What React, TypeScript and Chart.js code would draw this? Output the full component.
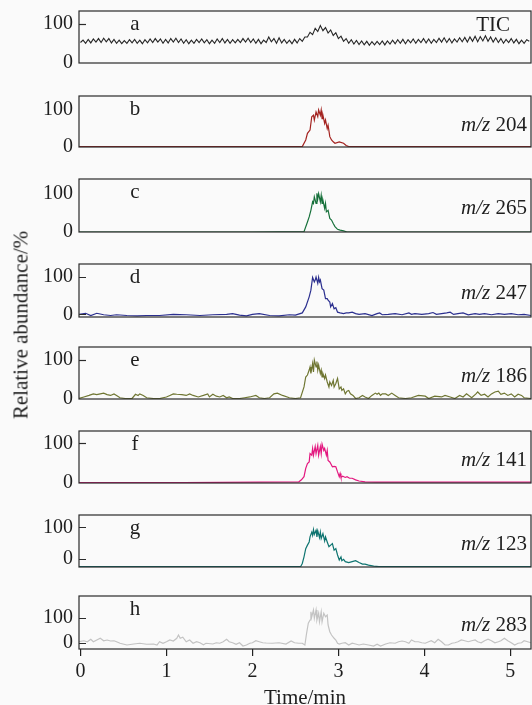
import React, { useEffect, useRef } from "react";
import { Chart, registerables } from "chart.js";

Chart.register(...registerables);

// ---------------- data ----------------
const X_TICKS = [0, 1, 2, 3, 4, 5];
const Y_TICKS = [0, 100];
const X_TITLE = "Time/min";
const Y_TITLE = "Relative abundance/%";
const PANEL_LETTERS = ["a", "b", "c", "d", "e", "f", "g", "h"];
const PANEL_IONS = ["TIC", "204", "265", "247", "186", "141", "123", "283"];

// TIC sampled every 0.03 min starting at 0
const TIC_STEP = 0.03;
const TIC_VALUES = [
  52, 58, 50, 60, 51, 61, 53, 62, 52, 63, 54, 62, 51, 60, 50, 58, 49, 57, 50, 59,
  51, 60, 50, 58, 49, 59, 51, 61, 52, 62, 53, 61, 50, 60, 51, 62, 53, 63, 52, 61,
  50, 59, 49, 58, 50, 60, 52, 61, 51, 59, 49, 58, 50, 61, 52, 62, 51, 60, 50, 59,
  51, 60, 52, 62, 53, 63, 52, 61, 50, 60, 49, 58, 52, 66, 54, 62, 50, 64, 51, 60,
  50, 58, 49, 60, 51, 62, 55, 66,
  66, 78, 72, 88, 80, 95, 82, 90, 76, 84, 70, 77, 62, 68, 55, 62, 50, 59, 48, 57,
  47, 56, 46, 55, 45, 54, 46, 55, 47, 56, 46, 56, 48, 58, 49, 59, 50, 60, 49, 59,
  51, 61, 50, 60, 52, 62, 51, 61, 50, 60, 52, 63, 53, 64, 52, 62, 51, 61, 53, 64,
  54, 65, 53, 66, 55, 68, 54, 67, 56, 69, 55, 66, 53, 64, 52, 62, 50, 60, 52, 62,
  51, 60, 49, 58, 50, 59, 55,
];

const MZ204_TIME = [-0.02, 1.1, 2.0, 2.58, 2.62, 2.64, 2.67, 2.69, 2.71, 2.72, 2.74, 2.76, 2.77, 2.79, 2.8, 2.81, 2.82, 2.84, 2.85, 2.87, 2.88, 2.9, 2.92, 2.94, 2.96, 3.01, 3.06, 3.09, 3.12, 3.5, 5.24];
const MZ204_VALUES = [1, 1, 1, 1, 19, 37, 46, 82, 86, 73, 95, 82, 100, 86, 100, 77, 86, 64, 73, 50, 59, 28, 19, 14, 10, 14, 10, 4, 1, 1, 1];

const MZ265_TIME = [-0.02, 2.0, 2.6, 2.64, 2.66, 2.68, 2.7, 2.71, 2.72, 2.74, 2.75, 2.76, 2.77, 2.79, 2.8, 2.81, 2.82, 2.84, 2.85, 2.86, 2.88, 2.9, 2.92, 2.94, 2.96, 2.99, 3.02, 3.06, 3.1, 5.24];
const MZ265_VALUES = [0, 0, 1, 26, 39, 56, 78, 74, 91, 74, 100, 86, 99, 78, 95, 74, 82, 61, 74, 52, 56, 35, 31, 22, 14, 7, 5, 3, 0, 0];

const MZ247_TIME = [
  -0.02, 0.06, 0.12, 0.19, 0.27, 0.35, 0.42, 0.54, 0.66, 0.77, 0.92, 1.08, 1.23, 1.39, 1.54, 1.7, 1.77, 1.85, 1.93, 2.0,
  2.08, 2.2, 2.31, 2.43, 2.5, 2.58, 2.62, 2.66, 2.68, 2.7, 2.72, 2.73, 2.74, 2.76, 2.77, 2.78, 2.79, 2.81, 2.83, 2.85,
  2.87, 2.88, 2.9, 2.91, 2.93, 2.95, 2.97, 2.99, 3.02, 3.06, 3.09, 3.12, 3.16, 3.2, 3.24, 3.31, 3.39, 3.45, 3.48, 3.51,
  3.58, 3.66, 3.74, 3.82, 3.85, 3.89, 3.97, 4.05, 4.1, 4.14, 4.2, 4.26, 4.3, 4.34, 4.39, 4.45, 4.51, 4.59, 4.64, 4.7,
  4.78, 4.86, 4.93, 5.01, 5.09, 5.16, 5.24,
];
const MZ247_VALUES = [
  0, 3, -3, 3, -1, -3, -1, -3, -4, -3, -3, 0, -1, -3, -1, 0, 2, -2, -4, 0,
  2, -3, -4, -1, -2, 4, 20, 47, 65, 99, 87, 92, 100, 83, 99, 87, 92, 69, 65, 42,
  42, 38, 33, 20, 29, 15, 18, 6, 4, 2, 4, 4, 6, 2, 0, 2, -3, 2, 4, -1,
  0, 2, -1, 4, 0, 2, 0, 2, 5, 0, 2, 4, 6, 0, 2, 4, -1, 2, 0, 2,
  -1, 2, 0, 2, -1, 0, -3,
];

const MZ186_TIME = [
  -0.02, 0.04, 0.1, 0.15, 0.19, 0.23, 0.27, 0.31, 0.35, 0.39, 0.42, 0.46, 0.52, 0.6, 0.64, 0.67, 0.69, 0.73, 0.77, 0.85,
  0.92, 1.0, 1.04, 1.08, 1.12, 1.18, 1.23, 1.27, 1.31, 1.37, 1.43, 1.48, 1.5, 1.54, 1.58, 1.62, 1.66, 1.7, 1.73, 1.77,
  1.85, 1.91, 1.97, 2.04, 2.08, 2.14, 2.2, 2.25, 2.29, 2.35, 2.43, 2.5, 2.56, 2.6, 2.62, 2.64, 2.66, 2.67, 2.68, 2.7,
  2.71, 2.72, 2.74, 2.75, 2.76, 2.77, 2.79, 2.8, 2.81, 2.82, 2.84, 2.85, 2.87, 2.89, 2.9, 2.92, 2.94, 2.95, 2.97, 2.99,
  3.01, 3.03, 3.04, 3.06, 3.08, 3.1, 3.12, 3.14, 3.17, 3.2, 3.24, 3.28, 3.31, 3.35, 3.39, 3.43, 3.45, 3.47, 3.49, 3.51,
  3.55, 3.58, 3.62, 3.66, 3.7, 3.78, 3.85, 3.93, 4.01, 4.05, 4.12, 4.2, 4.24, 4.3, 4.355, 4.41, 4.45, 4.49, 4.55, 4.6,
  4.62, 4.66, 4.7, 4.74, 4.78, 4.82, 4.86, 4.89, 4.93, 4.97, 5.01, 5.05, 5.09, 5.13, 5.16, 5.24,
];
const MZ186_VALUES = [
  0, 4, 8, 12, 10, 12, 14, 10, 8, 12, 8, 2, 0, 0, 11, 8, 12, 8, 2, 0,
  0, 4, 8, 12, 11, 10, 8, 12, 8, 4, 8, 12, 4, 11, 6, 4, 8, 2, 4, 0,
  0, 2, 4, 8, 2, 0, 2, 12, 14, 8, 2, 0, 2, 30, 56, 61, 74, 82, 65, 91,
  69, 100, 82, 96, 74, 87, 65, 74, 56, 65, 52, 61, 43, 30, 43, 34, 47, 30, 39, 52,
  25, 30, 21, 25, 12, 19, 21, 12, 8, 0, 2, 8, 4, 0, 8, 14, 11, 14, 8, 12,
  12, 8, 14, 8, 2, 0, 2, 8, 6, 0, 6, 4, 8, 4, 0, 8, 4, 12, 2, 12,
  17, 8, 11, 4, 12, 17, 19, 11, 14, 8, 12, 4, 11, 8, 2, 0,
];

const MZ141_TIME = [-0.02, 1.2, 2.54, 2.57, 2.6, 2.62, 2.64, 2.66, 2.67, 2.69, 2.7, 2.71, 2.73, 2.74, 2.76, 2.77, 2.79, 2.8, 2.81, 2.83, 2.84, 2.86, 2.87, 2.88, 2.9, 2.91, 2.93, 2.95, 2.97, 2.99, 3.01, 3.02, 3.03, 3.05, 3.08, 3.1, 3.13, 3.16, 3.2, 3.24, 3.31, 3.43, 3.62, 5.24];
const MZ141_VALUES = [1, 1, 3, 8, 16, 37, 49, 53, 74, 70, 87, 70, 92, 74, 95, 70, 92, 74, 98, 82, 87, 70, 82, 57, 53, 49, 41, 42, 41, 28, 16, 24, 14, 17, 14, 16, 12, 12, 8, 5, 3, 2, 2, 2];

const MZ123_TIME = [-0.02, 2.0, 2.56, 2.58, 2.6, 2.62, 2.64, 2.66, 2.67, 2.69, 2.7, 2.71, 2.72, 2.74, 2.75, 2.76, 2.78, 2.79, 2.8, 2.82, 2.84, 2.85, 2.87, 2.89, 2.91, 2.93, 2.95, 2.97, 2.99, 3.01, 3.03, 3.04, 3.06, 3.08, 3.12, 3.16, 3.2, 3.24, 3.28, 3.31, 3.35, 3.41, 3.47, 5.24];
const MZ123_VALUES = [-24, -24, -24, -14, 7, 33, 44, 54, 70, 85, 75, 93, 78, 91, 70, 89, 68, 85, 65, 80, 57, 70, 54, 39, 44, 49, 28, 33, 13, -3, 7, -5, -1, -8, -11, -8, -5, -11, -16, -16, -19, -22, -24, -24];

const MZ283_TIME = [
  -0.02, 0.04, 0.08, 0.12, 0.15, 0.19, 0.23, 0.27, 0.31, 0.35, 0.39, 0.42, 0.46, 0.54, 0.62, 0.69, 0.77, 0.85, 0.89, 0.92,
  0.96, 1.0, 1.04, 1.08, 1.12, 1.14, 1.16, 1.19, 1.23, 1.27, 1.31, 1.35, 1.39, 1.43, 1.46, 1.54, 1.58, 1.62, 1.66, 1.7,
  1.73, 1.77, 1.81, 1.85, 1.89, 1.93, 1.97, 2.0, 2.04, 2.08, 2.12, 2.16, 2.23, 2.31, 2.39, 2.45, 2.49, 2.54, 2.58, 2.61,
  2.63, 2.65, 2.67, 2.68, 2.69, 2.71, 2.72, 2.74, 2.75, 2.77, 2.78, 2.8, 2.81, 2.83, 2.85, 2.87, 2.88, 2.9, 2.92, 2.95,
  2.97, 2.99, 3.01, 3.04, 3.08, 3.12, 3.16, 3.2, 3.24, 3.29, 3.35, 3.41, 3.45, 3.49, 3.55, 3.6, 3.66, 3.7, 3.74, 3.78,
  3.82, 3.85, 3.89, 3.93, 3.97, 4.01, 4.05, 4.08, 4.12, 4.16, 4.2, 4.24, 4.28, 4.32, 4.355, 4.39, 4.43, 4.47, 4.51, 4.55,
  4.59, 4.62, 4.66, 4.7, 4.74, 4.78, 4.82, 4.86, 4.89, 4.93, 4.97, 5.01, 5.05, 5.09, 5.13, 5.16, 5.24,
];
const MZ283_VALUES = [
  5, 9, 5, 15, 5, 12, 19, 9, 12, 8, 9, 5, -1, -8, -4, -1, -5, -4, -8, 5,
  -1, 5, 12, 8, 19, 32, 19, 23, 5, 12, -1, 5, 1, -7, -1, -4, 1, -1, 5, 15,
  5, 1, -5, 1, -12, -8, -1, 1, 9, 5, 1, 0, -1, 1, -4, 8, 1, -1, -1, -8,
  39, 79, 92, 125, 105, 132, 99, 132, 92, 119, 85, 125, 85, 119, 105, 112, 72, 45, 32, 19,
  12, -1, -4, -1, 1, -8, -1, -4, -8, -4, -8, -12, -5, -12, -4, 1, -1, 5, 8, 5,
  -1, 12, 5, 5, 1, -1, 5, 9, 1, 15, 5, -8, -8, -1, 1, 5, 12, 9, 5, 9,
  12, 5, 1, 9, 15, 9, 1, 5, 9, 19, 9, 1, -8, -1, 1, 9, 1,
];

const TIC_TIME = TIC_VALUES.map((_, i) => i * TIC_STEP);

const SERIES_TIME = [TIC_TIME, MZ204_TIME, MZ265_TIME, MZ247_TIME, MZ186_TIME, MZ141_TIME, MZ123_TIME, MZ283_TIME];
const SERIES_VALUES = [TIC_VALUES, MZ204_VALUES, MZ265_VALUES, MZ247_VALUES, MZ186_VALUES, MZ141_VALUES, MZ123_VALUES, MZ283_VALUES];

// ---------------- styling / layout ----------------
const COLORS = ["#262626", "#a3221f", "#16703a", "#2b2f8f", "#6f7632", "#e3177f", "#0e7470", "#c3c3c3"];
const Y_MIN = [0, 0, 0, -7, -1.3, 0, -25, -24];
const Y_MAX = [132, 138, 137, 135, 134, 131, 139, 188];
const BOX_TOP = [11, 96, 179, 264, 347, 431, 515, 596];
const BOX_BOTTOM = [63, 147, 232, 317, 399, 483, 567, 649];
const INWARD_TICKS = [true, false, false, true, true, true, true, true];
const X_MIN = -0.017;
const X_MAX = 5.24;
const PAGE_W = 532;
const PAGE_H = 705;
const CANVAS_BOTTOM_LAST = 711;
const LEFT = 79;
const FONT_FAMILY = "'Liberation Serif', 'Times New Roman', serif";
const TEXT = "#1e1e1e";

const panelDeco = {
  id: "panelDeco",
  afterDatasetsDraw(chart: any, _args: any, opts: any) {
    const { ctx, chartArea: a } = chart;
    const ys = chart.scales.y;
    ctx.save();
    ctx.strokeStyle = "#2a2a2a";
    ctx.lineWidth = 1.2;
    ctx.strokeRect(a.left, a.top, a.right - a.left, a.bottom - a.top);
    if (opts.inward) {
      ctx.beginPath();
      for (const v of Y_TICKS) {
        const py = Math.round(ys.getPixelForValue(v)) + 0.5;
        if (py > a.top + 2 && py < a.bottom - 2) {
          ctx.moveTo(a.left, py);
          ctx.lineTo(a.left + 7, py);
        }
      }
      ctx.stroke();
    }
    ctx.fillStyle = TEXT;
    ctx.textBaseline = "middle";
    ctx.font = `21px ${FONT_FAMILY}`;
    ctx.textAlign = "center";
    ctx.fillText(opts.letter, a.left + 56, a.top + 13.5);
    if (opts.ion === "TIC") {
      ctx.textAlign = "right";
      ctx.fillText("TIC", a.right - 21, a.top + 14);
    } else {
      const rx = a.right - 4;
      const y = a.top + 29;
      const num = " " + opts.ion;
      ctx.textAlign = "right";
      ctx.fillText(num, rx, y);
      const w = ctx.measureText(num).width;
      ctx.font = `italic 21px ${FONT_FAMILY}`;
      ctx.fillText("m/z", rx - w, y);
    }
    ctx.restore();
  },
};

function Panel({ idx }: { idx: number }) {
  const ref = useRef<HTMLCanvasElement | null>(null);
  const last = idx === 7;
  const padT = 10;
  const padB = last ? 0 : 10;
  const canvasTop = BOX_TOP[idx] - padT;
  const canvasH = last ? CANVAS_BOTTOM_LAST - canvasTop : BOX_BOTTOM[idx] - BOX_TOP[idx] + padT + padB;
  const xAxisH = last ? CANVAS_BOTTOM_LAST - BOX_BOTTOM[7] : 0;

  useEffect(() => {
    if (!ref.current) return;
    const time = SERIES_TIME[idx];
    const vals = SERIES_VALUES[idx];
    const chart = new Chart(ref.current, {
      type: "line",
      data: {
        datasets: [
          {
            data: time.map((t, i) => ({ x: t, y: vals[i] })),
            borderColor: COLORS[idx],
            borderWidth: idx === 0 ? 1.1 : 1.2,
            pointRadius: 0,
            tension: 0,
            fill: false,
          },
        ],
      },
      options: {
        responsive: false,
        maintainAspectRatio: false,
        animation: false,
        events: [],
        layout: { padding: { top: padT, bottom: padB, left: 0, right: 1 } },
        plugins: {
          legend: { display: false },
          tooltip: { enabled: false },
          // @ts-ignore
          panelDeco: { letter: PANEL_LETTERS[idx], ion: PANEL_IONS[idx], inward: INWARD_TICKS[idx] },
        },
        scales: {
          x: {
            type: "linear",
            min: X_MIN,
            max: X_MAX,
            display: last,
            afterBuildTicks: (s: any) => {
              s.ticks = X_TICKS.map((v) => ({ value: v }));
            },
            afterFit: (s: any) => {
              s.height = xAxisH;
              s.paddingLeft = 0;
              s.paddingRight = 0;
            },
            grid: { display: true, drawOnChartArea: false, drawTicks: true, tickLength: 7, color: "#222", lineWidth: 1.2 },
            border: { display: false },
            ticks: {
              font: { family: FONT_FAMILY, size: 20 },
              color: TEXT,
              padding: 4,
              maxRotation: 0,
              autoSkip: false,
              callback: (v: any) => String(v),
            },
            title: {
              display: true,
              text: X_TITLE,
              font: { family: FONT_FAMILY, size: 21 },
              color: TEXT,
              padding: { top: 0, bottom: 0 },
            },
          },
          y: {
            type: "linear",
            min: Y_MIN[idx],
            max: Y_MAX[idx],
            afterBuildTicks: (s: any) => {
              s.ticks = Y_TICKS.map((v) => ({ value: v }));
            },
            afterFit: (s: any) => {
              s.width = LEFT;
              s.paddingTop = 0;
              s.paddingBottom = 0;
            },
            grid: { display: false, drawTicks: false },
            border: { display: false },
            ticks: {
              font: { family: FONT_FAMILY, size: 20 },
              color: TEXT,
              padding: 6,
              callback: (v: any) => String(v),
            },
          },
        },
      } as any,
      plugins: [panelDeco as any],
    });
    return () => chart.destroy();
  }, []);

  return (
    <canvas
      ref={ref}
      width={PAGE_W}
      height={canvasH}
      style={{ position: "absolute", left: 0, top: canvasTop, width: PAGE_W, height: canvasH, display: "block" }}
    />
  );
}

export default function App() {
  return (
    <div
      style={{
        position: "fixed",
        left: 0,
        top: 0,
        width: PAGE_W,
        height: PAGE_H,
        background: "#fafafa",
        overflow: "hidden",
      }}
    >
      {PANEL_LETTERS.map((_, i) => (
        <Panel key={i} idx={i} />
      ))}
      <div
        style={{
          position: "absolute",
          left: 20.5,
          top: 325,
          transform: "translate(-50%, -50%) rotate(-90deg)",
          whiteSpace: "nowrap",
          fontFamily: FONT_FAMILY,
          fontSize: 21,
          color: TEXT,
          lineHeight: 1,
        }}
      >
        {Y_TITLE}
      </div>
    </div>
  );
}
